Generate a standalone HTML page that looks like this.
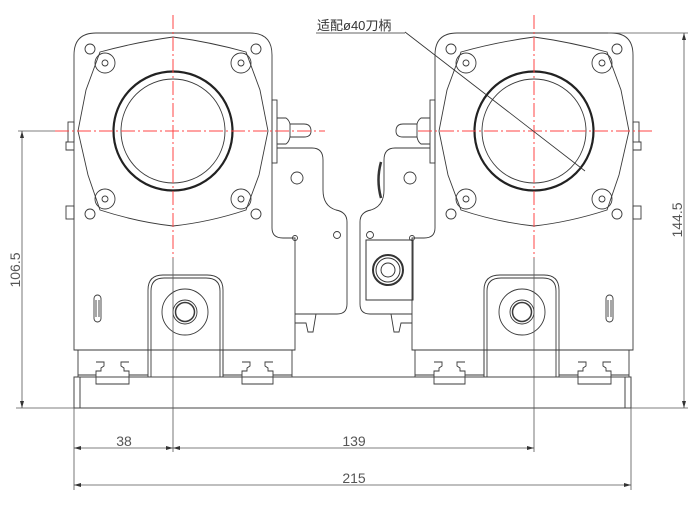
<!DOCTYPE html>
<html><head><meta charset="utf-8"><style>
html,body{margin:0;padding:0;background:#fff;}
svg{display:block;}
</style></head><body>
<svg width="700" height="505" viewBox="0 0 700 505" xmlns="http://www.w3.org/2000/svg" font-family="Liberation Sans, Noto Sans CJK SC, sans-serif">
<defs>
<g id="unit" fill="none" stroke="#3a3a3a" stroke-width="0.9">
  <path d="M74,350 L74,55 Q74,33 96,33 L250,33 Q272,33 272,55 L272,228 Q272,238 283,238 L295,238 L295,350 Z"/>
  <path d="M100,52 Q137,42 173,37 Q210,42 246,52 L260,90 L268,131 L259,175 L246,210 Q210,222 173,226 Q137,222 100,210 L88,175 L78,131 L86,90 Z"/>
  <circle cx="90" cy="49" r="5"/><circle cx="256" cy="49" r="5"/>
  <circle cx="90" cy="214" r="5"/><circle cx="256" cy="214" r="5"/>
  <circle cx="105" cy="63" r="10"/><circle cx="105" cy="63" r="3"/>
  <circle cx="241" cy="63" r="10"/><circle cx="241" cy="63" r="3"/>
  <circle cx="105" cy="199" r="10"/><circle cx="105" cy="199" r="3"/>
  <circle cx="241" cy="199" r="10"/><circle cx="241" cy="199" r="3"/>
  <circle cx="173" cy="131" r="59.5" stroke-width="2.2" stroke="#222"/>
  <circle cx="173" cy="131" r="52"/>
  <rect x="272" y="100" width="5" height="63"/>
  <path d="M277,118 L286,118 Q289,120 290,124 L304,124 Q311,124 311,131 Q311,137 304,137 L290,137 Q289,142 286,144 L277,144"/>
  <line x1="290" y1="124" x2="290" y2="137"/>
  <rect x="68" y="122" width="6" height="20"/>
  <path d="M68,142 L66,142 L66,150 L74,150"/>
  <rect x="66" y="206" width="8" height="13"/>
  <path d="M277,148 L312,148 Q323,148 323,160 L323,190 Q323,206 336,210 Q347,212 347,222 L347,304 Q347,314 337,314 L295,314"/>
  <circle cx="297" cy="178" r="6"/>
  <circle cx="337" cy="235" r="3.5"/>
  <circle cx="295" cy="238" r="2.5"/>
  <path d="M295,323 L306,323 L308,332 L313,332 L316,314"/>
  <rect x="94" y="295" width="7" height="27" rx="3.5"/>
  <line x1="96" y1="300" x2="96" y2="317"/><line x1="99" y1="300" x2="99" y2="317"/>
  <path d="M148,377 L148,290 Q148,275 163,275 L207,275 Q223,275 223,290 L223,377"/>
  <path d="M151,377 L151,291 Q151,278 164,278 L206,278 Q220,278 220,291 L220,377"/>
  <circle cx="185" cy="312" r="23"/>
  <circle cx="185" cy="312" r="12"/>
  <circle cx="185" cy="312" r="9.5" stroke-width="1.5"/>
  <path d="M78,350 L78,377 M148,350 L292,350 M292,350 L292,377 M223,350 L223,377"/>
  <path d="M78,350 L148,350"/>
  <path d="M78,375 L96,375 M129,375 L148,375 M223,375 L242,375 M273,375 L292,375"/>
  <path d="M96,362 L104,362 L104,366 L101,368 L101,371 L96,371 L96,384 L129,384 L129,371 L124,371 L124,368 L121,366 L121,362 L129,362"/>
  <path d="M242,362 L250,362 L250,366 L247,368 L247,371 L242,371 L242,384 L273,384 L273,371 L268,371 L268,368 L265,366 L265,362 L273,362"/>
</g>
</defs>
<use href="#unit"/>
<g transform="translate(707,0) scale(-1,1)"><use href="#unit"/></g>

<g fill="none" stroke="#333">
<rect x="366" y="240" width="47" height="60"/>
<circle cx="388" cy="270" r="15" stroke-width="2"/>
<circle cx="388" cy="270" r="12"/>
<circle cx="388" cy="270" r="7"/>
<path d="M381,162 Q376,180 381,198" stroke-width="2.5"/>
</g>

<g fill="none" stroke="#444">
<rect x="74" y="377" width="557" height="31"/>
<line x1="80" y1="377" x2="80" y2="408"/>
<line x1="625" y1="377" x2="625" y2="408"/>
</g>

<g stroke="#f44" stroke-width="1" stroke-dasharray="14,3,2,3" fill="none">
<line x1="173" y1="15" x2="173" y2="258"/>
<line x1="534" y1="15" x2="534" y2="258"/>
<line x1="55" y1="131" x2="325" y2="131"/>
<line x1="418" y1="131" x2="652" y2="131"/>
</g>

<g stroke="#555" stroke-width="0.8" fill="none">
<line x1="173" y1="258" x2="173" y2="452"/>
<line x1="534" y1="258" x2="534" y2="452"/>
<line x1="74" y1="408" x2="74" y2="490"/>
<line x1="631" y1="408" x2="631" y2="490"/>
<line x1="16" y1="408" x2="74" y2="408"/>
<line x1="631" y1="408" x2="688" y2="408"/>
<line x1="18" y1="131" x2="55" y2="131"/>
<line x1="608" y1="33" x2="688" y2="33"/>
<line x1="22" y1="131" x2="22" y2="408"/>
<line x1="684" y1="33" x2="684" y2="408"/>
<line x1="74" y1="448" x2="534" y2="448"/>
<line x1="74" y1="485" x2="631" y2="485"/>
<line x1="405" y1="32" x2="585" y2="171" stroke="#333"/>
<line x1="316" y1="33" x2="405" y2="33" stroke="#333"/>
</g>
<g fill="#333">
<path d="M22,131 l-2,7 h4z"/><path d="M22,408 l-2,-7 h4z"/>
<path d="M684,33 l-2,7 h4z"/><path d="M684,408 l-2,-7 h4z"/>
<path d="M74,448 l7,-2 v4z"/><path d="M173,448 l-7,-2 v4z"/><path d="M173,448 l7,-2 v4z"/><path d="M534,448 l-7,-2 v4z"/>
<path d="M74,485 l7,-2 v4z"/><path d="M631,485 l-7,-2 v4z"/>
</g>
<g fill="#555" font-size="14">
<text x="124" y="446" text-anchor="middle">38</text>
<text x="354" y="446" text-anchor="middle">139</text>
<text x="354" y="483" text-anchor="middle">215</text>
<text transform="translate(20,270) rotate(-90)" text-anchor="middle">106.5</text>
<text transform="translate(682,220) rotate(-90)" text-anchor="middle">144.5</text>
<text x="317" y="30" font-size="13" fill="#333">适配ø40刀柄</text>
</g>
</svg>
</body></html>
